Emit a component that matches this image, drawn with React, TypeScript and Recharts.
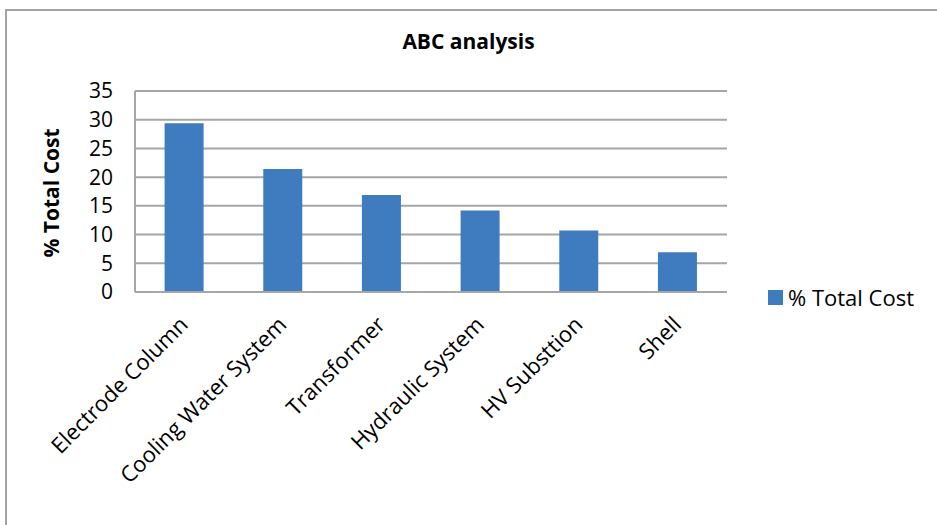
import React from "react";
import { BarChart, Bar, XAxis, YAxis, CartesianGrid } from "recharts";

const categories = [
  "Electrode Column",
  "Cooling Water System",
  "Transformer",
  "Hydraulic System",
  "HV Substtion",
  "Shell",
];
const totalCost = [29.4, 21.4, 16.9, 14.2, 10.7, 6.9];
const yTicks = [0, 5, 10, 15, 20, 25, 30, 35];
const seriesName = "% Total Cost";
const barColor = "#3f7bbf";

const data = categories.map((name, i) => ({ name, cost: totalCost[i] }));

const FONT = "'Open Sans', 'Noto Sans', sans-serif";
const FS = 21;

const XTick = (props: any) => {
  const { x, y, payload } = props;
  return (
    <g transform={`translate(${x + 5},${y + 34})`}>
      <text
        x={0}
        y={0}
        textAnchor="end"
        transform="rotate(-45)"
        fill="#000"
        fontSize={22}
        fontFamily={FONT}
      >
        {payload.value}
      </text>
    </g>
  );
};

const App = () => {
  return (
    <div
      style={{
        position: "absolute",
        left: 0,
        top: 0,
        width: 937,
        height: 525,
        background: "#fff",
        overflow: "hidden",
        fontFamily: FONT,
      }}
    >
      <div
        style={{
          position: "absolute",
          left: 5,
          top: 9,
          width: 960,
          height: 560,
          border: "2px solid #a3a3a3",
        }}
      />
      <div
        style={{
          position: "absolute",
          left: 0,
          width: 937,
          top: 27,
          textAlign: "center",
          fontWeight: "bold",
          fontSize: 21,
          color: "#000",
        }}
      >
        ABC analysis
      </div>
      <div
        style={{
          position: "absolute",
          left: 768,
          top: 282,
          display: "flex",
          alignItems: "center",
          fontSize: 22,
          color: "#000",
        }}
      >
        <span
          style={{
            display: "inline-block",
            width: 15,
            height: 15,
            background: barColor,
            marginRight: 5,
          }}
        />
        {seriesName}
      </div>
      <BarChart
        width={937}
        height={525}
        data={data}
        margin={{ top: 91, right: 210, bottom: 0, left: 0 }}
        barCategoryGap="30%"
        style={{ position: "absolute", left: 0, top: 0 }}
      >
        <CartesianGrid vertical={false} stroke="#a6a6a6" strokeWidth={2} />
        <XAxis
          dataKey="name"
          interval={0}
          tickLine={false}
          tickSize={0}
          tickMargin={0}
          axisLine={{ stroke: "#a6a6a6", strokeWidth: 2 }}
          tick={<XTick />}
          height={233}
        />
        <YAxis
          width={135}
          domain={[0, 35]}
          ticks={yTicks}
          interval={0}
          tickLine={false}
          tickSize={0}
          tickMargin={22}
          axisLine={{ stroke: "#a6a6a6", strokeWidth: 2 }}
          tick={{ fill: "#000", fontSize: FS, fontFamily: FONT }}
          label={() => (
            <text
              x={53}
              y={193}
              transform="rotate(-90 53 193)"
              textAnchor="middle"
              dominantBaseline="middle"
              fontWeight="bold"
              fontSize={FS}
              fontFamily={FONT}
              fill="#000"
            >
              {seriesName}
            </text>
          )}
        />
        <Bar
          dataKey="cost"
          name={seriesName}
          fill={barColor}
          isAnimationActive={false}
        />
      </BarChart>
    </div>
  );
};

export default App;
